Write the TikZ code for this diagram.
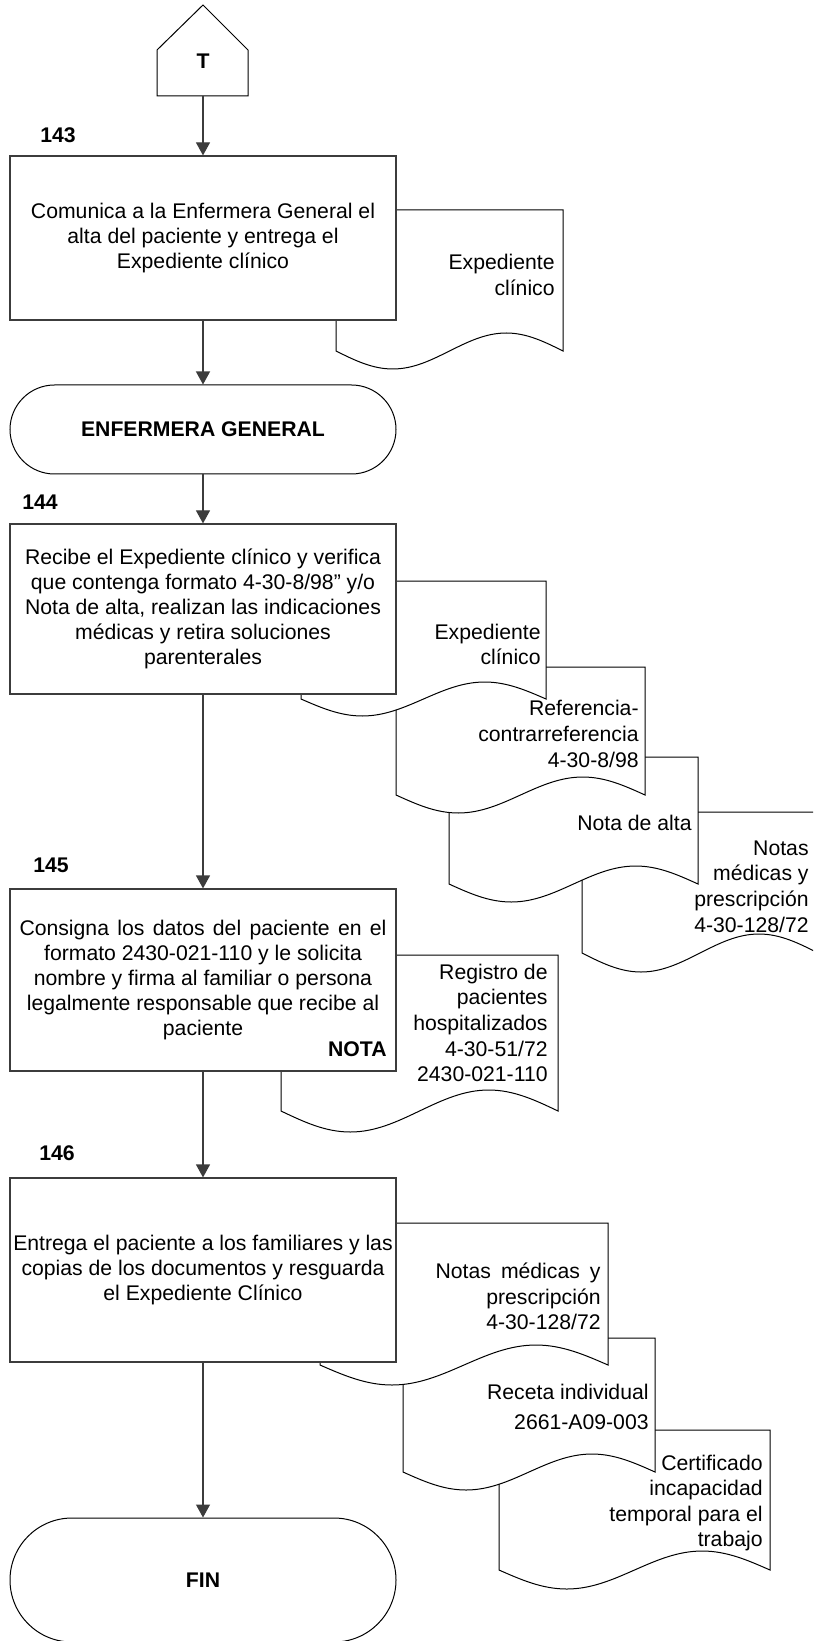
\documentclass[tikz,border=0pt]{standalone}
\usepackage{fontspec}
\setmainfont{Liberation Sans}
\usepackage{tikz}
\usetikzlibrary{arrows.meta,positioning}
\definecolor{fline}{HTML}{3C3C3C}
\definecolor{fink}{HTML}{000000}

\tikzset{
  procbox/.style={draw=fline, fill=white, line width=0.6pt, align=center, inner sep=0pt,
    text=fink, font=\fontsize{10.6}{12.5}\selectfont},
  termbox/.style={draw=fink, fill=white, line width=0.5pt, rounded corners=#1, inner sep=0pt,
    font=\fontsize{10.6}{12.5}\selectfont\bfseries},
  doctext/.style={align=right, inner sep=0pt, anchor=east, font=\fontsize{10.6}{12.8}\selectfont},
  steplabel/.style={inner sep=0pt, font=\fontsize{10.6}{12}\selectfont\bfseries},
  flow/.style={draw=fline, line width=0.6pt, -{Triangle[length=6.5pt,width=7pt]}},
  docline/.style={draw=fink, fill=white, line width=0.5pt},
}

% document symbol: left, top, right, bottom, wave height
\newcommand{\paperdoc}[5]{%
  \filldraw[docline] (#1,#2) -- (#3,#2) -- (#3,#4)
    sin ({#3-(#3-#1)/4},{#4-#5}) cos ({(#1+#3)/2},#4)
    sin ({#1+(#3-#1)/4},{#4+#5}) cos (#1,#4) -- cycle;}

\begin{document}
\begin{tikzpicture}[x=0.5pt,y=-0.5pt]
  \clip (0,0) rectangle (813,1641);
  \fill[white] (0,0) rectangle (813,1641);

  % connector T
  \draw[docline] (157,50) -- (203,5) -- (248,50) -- (248,96) -- (157,96) -- cycle;
  \node[steplabel] (conT) at (203,61) {T};
  \coordinate (conTbase) at (203,96);

  % 143
  \paperdoc{336}{210}{563}{351}{18}
  \node[doctext] (doc143) at (555,275) {Expediente\\clínico};
  \node[procbox, minimum width=193pt, minimum height=82pt] (act143) at (203,238)
    {Comunica a la Enfermera General el\\alta del paciente y entrega el\\Expediente clínico};
  \node[steplabel] (num143) at (58,135) {143};

  \node[termbox=22.25pt, minimum width=193pt, minimum height=44.5pt] (termEG) at (203,429.5)
    {ENFERMERA GENERAL};

  % 144
  \paperdoc{582}{812}{818}{953}{19}
  \node[doctext] (doc144d) at (809,886.5) {Notas\\médicas y\\prescripción\\4-30-128/72};
  \paperdoc{449}{757}{698}{884}{18}
  \node[doctext] (doc144c) at (692,823) {Nota de alta};
  \paperdoc{396}{667}{645}{795}{18}
  \node[doctext] (doc144b) at (639,734) {Referencia-\\contrarreferencia\\4-30-8/98};
  \paperdoc{301}{581}{546}{699}{17}
  \node[doctext] (doc144a) at (541,644.5) {Expediente\\clínico};
  \node[procbox, minimum width=193pt, minimum height=85pt] (act144) at (203,609)
    {Recibe el Expediente clínico y verifica\\que contenga formato 4-30-8/98” y/o\\Nota de alta, realizan las indicaciones\\médicas y retira soluciones\\parenterales};
  \node[steplabel] (num144) at (40,502) {144};

  % 145
  \paperdoc{281}{955}{558}{1111}{21}
  \node[doctext] (doc145) at (548,1023) {Registro de\\pacientes\\hospitalizados\\4-30-51/72\\2430-021-110};
  \node[procbox, minimum width=193pt, minimum height=91pt] (act145) at (203,980)
    {\makebox[183.5pt][s]{Consigna los datos del paciente en el}\\formato 2430-021-110 y le solicita\\nombre y firma al familiar o persona\\legalmente responsable que recibe al\\paciente};
  \node[steplabel, anchor=east] (nota145) at (387,1049) {NOTA};
  \node[steplabel] (num145) at (51,865) {145};

  % 146
  \paperdoc{499}{1430}{770}{1570}{19}
  \node[doctext] (doc146c) at (763,1503) {Certificado\\incapacidad\\temporal para el\\trabajo};
  \paperdoc{403}{1338}{655}{1472}{18}
  \node[doctext] (doc146b) at (649,1407) {Receta individual\\[2.2pt]2661-A09-003};
  \paperdoc{320}{1223}{608}{1365}{20}
  \node[doctext] (doc146a) at (601,1296.5) {\makebox[82.5pt][s]{Notas médicas y}\\prescripción\\4-30-128/72};
  \node[procbox, minimum width=193pt, minimum height=92pt] (act146) at (203,1270)
    {Entrega el paciente a los familiares y las\\copias de los documentos y resguarda\\el Expediente Clínico};
  \node[steplabel] (num146) at (57,1153) {146};

  \node[termbox=31pt, minimum width=193pt, minimum height=62pt] (termFIN) at (203,1580) {FIN};

  % flow
  \draw[flow] (conTbase) -- (act143);
  \draw[flow] (act143) -- (termEG);
  \draw[flow] (termEG) -- (act144);
  \draw[flow] (act144) -- (act145);
  \draw[flow] (act145) -- (act146);
  \draw[flow] (act146) -- (termFIN);
\end{tikzpicture}
\end{document}
